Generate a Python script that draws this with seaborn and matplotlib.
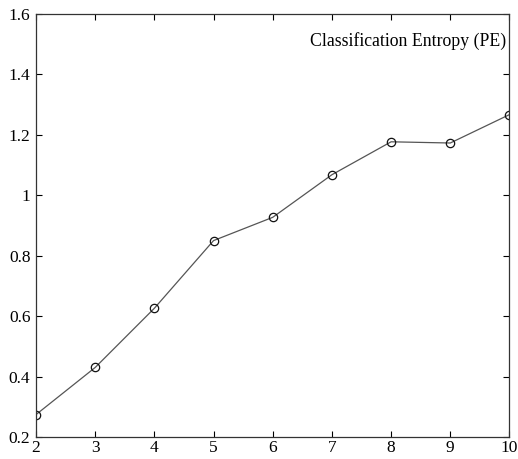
import matplotlib
matplotlib.use("Agg")
import matplotlib.pyplot as plt
import seaborn as sns
import pandas as pd

clusters = [2, 3, 4, 5, 6, 7, 8, 9, 10]
pe_values = [0.274, 0.430, 0.626, 0.850, 0.927, 1.068, 1.177, 1.173, 1.267]
x_ticks = [2, 3, 4, 5, 6, 7, 8, 9, 10]
y_ticks = [0.2, 0.4, 0.6, 0.8, 1.0, 1.2, 1.4, 1.6]
y_tick_labels = ["0.2", "0.4", "0.6", "0.8", "1", "1.2", "1.4", "1.6"]

sns.set_style("ticks")
plt.rcParams["font.family"] = ["Liberation Serif", "DejaVu Serif"]

df = pd.DataFrame({"c": clusters, "pe": pe_values})

fig = plt.figure(figsize=(5.18, 4.59), dpi=100)
ax = fig.add_axes([0.0695, 0.048, 0.914, 0.9215])
sns.lineplot(data=df, x="c", y="pe", ax=ax, color="#555555", linewidth=0.9,
             marker="o", markersize=6, markerfacecolor="none",
             markeredgecolor="#111111", markeredgewidth=0.9)

ax.set_xlim(2, 10)
ax.set_ylim(0.2, 1.6)
ax.set_xticks(x_ticks)
ax.set_xticklabels([str(t) for t in x_ticks])
ax.set_yticks(y_ticks)
ax.set_yticklabels(y_tick_labels)
ax.set_xlabel("")
ax.set_ylabel("")
ax.tick_params(direction="in", length=4, width=0.8, top=True, right=True,
               labelsize=12.5, colors="black")
ax.tick_params(axis="y", pad=4)
ax.tick_params(axis="x", pad=2)
for s in ax.spines.values():
    s.set_visible(True)
    s.set_color("#333333")
    s.set_linewidth(0.9)

ax.text(0.992, 0.935, "Classification Entropy (PE)", transform=ax.transAxes,
        ha="right", va="center", fontsize=12.8, color="black")

fig.savefig("out.png", dpi=100)
